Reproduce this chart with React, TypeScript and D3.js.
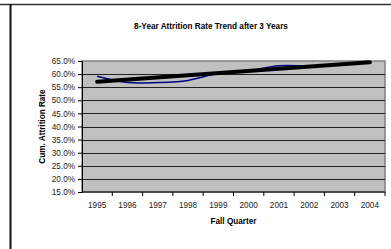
import React, { useRef, useEffect } from 'react';
import * as d3 from 'd3';

// category axis
const years: string[] = ['1995', '1996', '1997', '1998', '1999', '2000', '2001', '2002', '2003', '2004'];
// observed cumulative attrition (%)
const rateYears: string[] = ['1995', '1996', '1997', '1998', '1999', '2000', '2001', '2002'];
const rateValues: number[] = [59.2, 56.8, 56.8, 57.6, 60.3, 61.3, 63.2, 62.9];
// linear trend endpoints (%)
const trendYears: string[] = ['1995', '2004'];
const trendValues: number[] = [57.1, 64.5];
const yTicks: number[] = [15, 20, 25, 30, 35, 40, 45, 50, 55, 60, 65];

const W = 391;
const H = 249;

const App: React.FC = () => {
  const ref = useRef<SVGSVGElement>(null);

  useEffect(() => {
    if (!ref.current) return;
    const svg = d3.select(ref.current);
    svg.selectAll('*').remove();

    const font = 'Liberation Sans, Arial, sans-serif';
    const fs = 8.2;
    const margin = { top: 61, right: 6, bottom: 57, left: 82 };
    const pw = W - margin.left - margin.right;
    const ph = H - margin.top - margin.bottom;

    // outer frame lines
    svg.append('line').attr('x1', 0).attr('x2', W).attr('y1', 4.5).attr('y2', 4.5)
      .attr('stroke', '#333').attr('stroke-width', 1.5);
    svg.append('line').attr('x1', 10.5).attr('x2', 10.5).attr('y1', 4).attr('y2', H)
      .attr('stroke', '#111').attr('stroke-width', 2);

    const x = d3.scaleBand<string>().domain(years).range([0, pw]);
    const y = d3.scaleLinear().domain([15, 65]).range([ph, 0]);
    const cx = (d: string) => (x(d) as number) + x.bandwidth() / 2;

    const g = svg.append('g').attr('transform', `translate(${margin.left},${margin.top})`);

    g.append('rect').attr('width', pw).attr('height', ph)
      .attr('fill', '#c0c0c0').attr('stroke', '#808080').attr('stroke-width', 1.5);

    // gridlines
    g.selectAll('.grid').data(yTicks.slice(1, -1)).enter().append('line')
      .attr('x1', 0).attr('x2', pw)
      .attr('y1', d => Math.round(y(d)) + 0.5).attr('y2', d => Math.round(y(d)) + 0.5)
      .attr('stroke', '#222').attr('stroke-width', 1);

    // y axis
    const yAxis = d3.axisLeft(y).tickValues(yTicks).tickSize(4).tickPadding(3)
      .tickFormat(d => `${(+d).toFixed(1)}%`);
    const ya = g.append('g').call(yAxis);
    ya.select('.domain').attr('stroke', '#000');
    ya.selectAll('text').attr('font-family', font).attr('font-size', fs).attr('fill', '#222');

    // x axis (ticks between categories)
    const xa = g.append('g').attr('transform', `translate(0,${ph})`);
    xa.append('line').attr('x1', 0).attr('x2', pw).attr('stroke', '#000');
    xa.selectAll('.tk').data(years).enter().append('line')
      .attr('x1', d => (x(d) as number) + x.bandwidth())
      .attr('x2', d => (x(d) as number) + x.bandwidth())
      .attr('y1', 0).attr('y2', 4).attr('stroke', '#000');
    xa.selectAll('.lb').data(years).enter().append('text')
      .attr('x', cx).attr('y', 15.5).attr('text-anchor', 'middle')
      .attr('font-family', font).attr('font-size', fs).attr('fill', '#222')
      .text(d => d);

    // observed series
    const line = d3.line<number>()
      .x((_, i) => cx(rateYears[i]))
      .y(d => y(d))
      .curve(d3.curveCatmullRom.alpha(0.5));
    g.append('path').datum(rateValues).attr('d', line)
      .attr('fill', 'none').attr('stroke', '#000080').attr('stroke-width', 1.5);

    // trend line
    const tline = d3.line<number>()
      .x((_, i) => cx(trendYears[i]))
      .y(d => y(d));
    g.append('path').datum(trendValues).attr('d', tline)
      .attr('fill', 'none').attr('stroke', '#000').attr('stroke-width', 4)
      .attr('stroke-linecap', 'round');

    // titles
    svg.append('text').attr('x', 211).attr('y', 29).attr('text-anchor', 'middle')
      .attr('font-family', font).attr('font-size', fs).attr('font-weight', 'bold')
      .text('8-Year Attrition Rate Trend after 3 Years');
    svg.append('text').attr('x', margin.left + pw / 2).attr('y', 224).attr('text-anchor', 'middle')
      .attr('font-family', font).attr('font-size', fs).attr('font-weight', 'bold')
      .text('Fall Quarter');
    svg.append('text')
      .attr('transform', `translate(45,${margin.top + ph / 2}) rotate(-90)`)
      .attr('text-anchor', 'middle')
      .attr('font-family', font).attr('font-size', fs).attr('font-weight', 'bold')
      .text('Cum. Attrition Rate');
  }, []);

  return (
    <svg ref={ref} width={W} height={H}
      style={{ position: 'absolute', left: 0, top: 0, background: '#fff' }} />
  );
};

export default App;
